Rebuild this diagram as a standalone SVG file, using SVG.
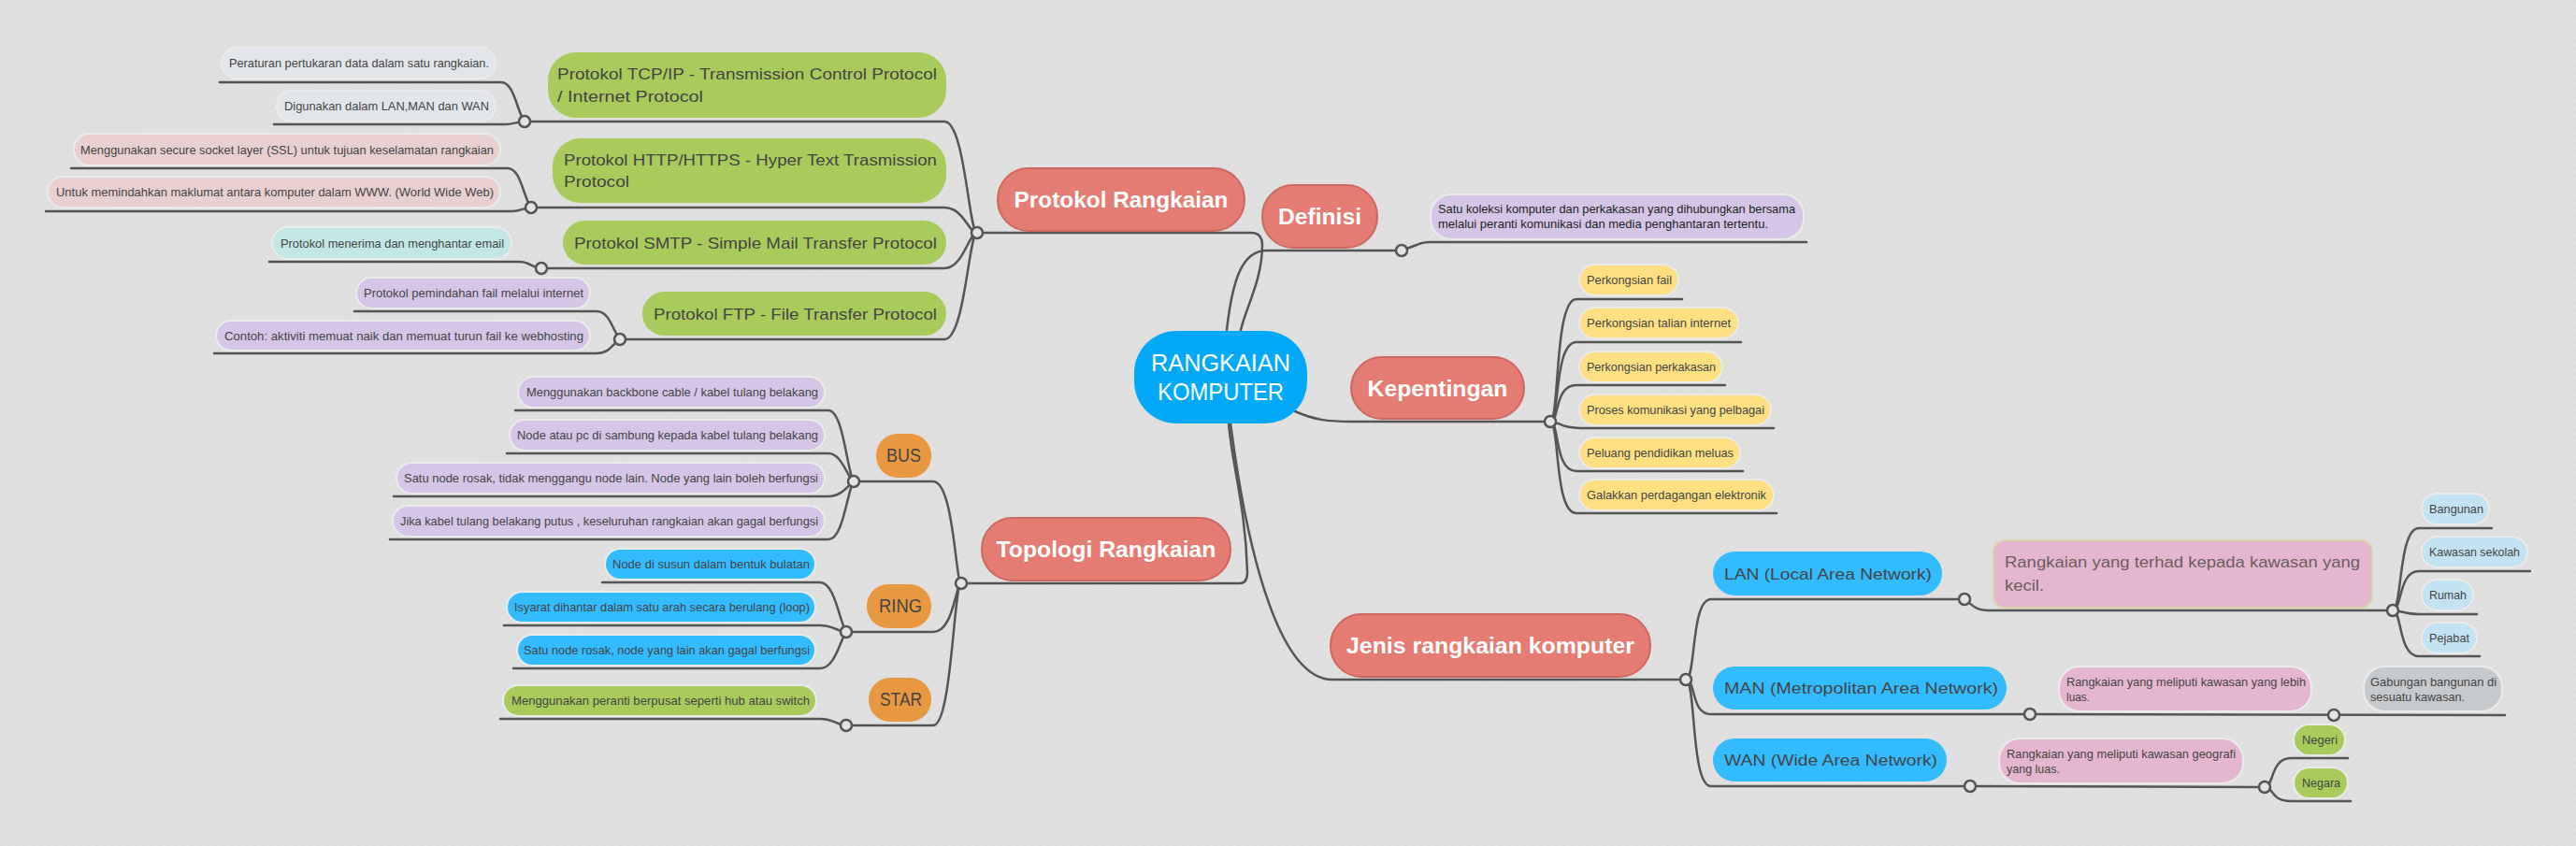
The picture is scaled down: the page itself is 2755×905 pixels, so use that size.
<svg xmlns="http://www.w3.org/2000/svg" width="2755" height="905" viewBox="0 0 2755 905">
<style>
text{font-family:"Liberation Sans",Arial,sans-serif}
.c{fill:none;stroke:#555;stroke-width:2.5;stroke-linecap:round}
.dot{fill:#e4e4e4;stroke:#555;stroke-width:2.5}
.main rect{fill:#E57C73;stroke:#CD675F;stroke-width:2}
.main text{font-size:24px;font-weight:bold;fill:#fff;text-anchor:middle}
.l2 text{font-size:17px;fill:#444}
.lf rect{stroke:#ebebeb;stroke-width:2}
.lf text{font-size:13px;fill:#444}
.g{fill:#A8CB5B}.gr{fill:#E2E6EA}.pk{fill:#E8CFD0}.tl{fill:#C3E7E6}.pu{fill:#D5C5E7}
.ye{fill:#FEE083}.bl{fill:#33BBFF}.or{fill:#E89841}.pd{fill:#E5B6CF}.lb{fill:#C3E2F2}.gy{fill:#C6CACD}
.topo text{font-size:20px;fill:#444;text-anchor:middle}
</style>
<defs>
<pattern id="bgp" width="6" height="6" patternUnits="userSpaceOnUse" patternTransform="rotate(45)">
<rect width="6" height="6" fill="#dedede"/><rect width="3" height="6" fill="#e1e1e1"/>
</pattern>
</defs>
<rect width="2755" height="905" fill="url(#bgp)"/>

<g id="connectors">
<!-- root to main branches -->
<path class="c" d="M1045,249 L1338,249 Q1350,249 1350,262 C1350,300 1332,330 1327,353"/>
<path class="c" d="M1312,353 C1318,300 1328,268 1355,268 L1499,268"/>
<path class="c" d="M1385,440 C1405,449 1420,451 1445,451 L1658,451"/>
<path class="c" d="M1028,624 L1326,624 Q1334,624 1334,612 C1332,540 1318,500 1314,453"/>
<path class="c" d="M1316,453 C1335,600 1370,727 1425,727 L1803,727"/>
<!-- protokol -->
<path class="c" d="M561,130 L1010,130 C1032,130 1036,249 1045,249"/>
<path class="c" d="M568,222 L1010,222 C1030,222 1036,249 1045,249"/>
<path class="c" d="M579,287 L1010,287 C1030,287 1036,249 1045,249"/>
<path class="c" d="M663,363 L1010,363 C1032,363 1036,249 1045,249"/>
<path class="c" d="M235,88 L536,88 C550,88 553,120 561,130"/>
<path class="c" d="M293,133 L540,133 C550,133 553,130 561,130"/>
<path class="c" d="M76,180 L543,180 C557,180 560,212 568,222"/>
<path class="c" d="M49,226 L547,226 C557,226 560,222 568,222"/>
<path class="c" d="M288,280 L556,280 C566,280 570,287 579,287"/>
<path class="c" d="M379,333 L638,333 C652,333 655,353 663,363"/>
<path class="c" d="M229,378 L638,378 C652,378 655,368 663,363"/>
<!-- topologi -->
<path class="c" d="M913,515 L998,515 C1020,515 1022,624 1028,624"/>
<path class="c" d="M905,676 L998,676 C1020,676 1022,624 1028,624"/>
<path class="c" d="M905,776 L998,776 C1018,776 1020,624 1028,624"/>
<path class="c" d="M551,439 L886,439 C902,439 906,505 913,515"/>
<path class="c" d="M542,485 L886,485 C900,485 906,510 913,515"/>
<path class="c" d="M421,531 L886,531 C900,531 906,520 913,515"/>
<path class="c" d="M417,577 L886,577 C902,577 906,525 913,515"/>
<path class="c" d="M644,623 L877,623 C893,623 898,666 905,676"/>
<path class="c" d="M539,669 L877,669 C891,669 897,676 905,676"/>
<path class="c" d="M549,715 L877,715 C893,715 898,686 905,676"/>
<path class="c" d="M535,769 L877,769 C891,769 897,776 905,776"/>
<!-- definisi -->
<path class="c" d="M1499,268 L1515,262 Q1520,259 1530,259 L1932,259"/>
<!-- kepentingan -->
<path class="c" d="M1658,451 C1668,451 1662,320 1686,320 L1799,320"/>
<path class="c" d="M1658,451 C1668,451 1662,366 1686,366 L1862,366"/>
<path class="c" d="M1658,451 C1668,451 1662,412 1686,412 L1845,412"/>
<path class="c" d="M1658,451 C1668,451 1668,458 1690,458 L1897,458"/>
<path class="c" d="M1658,451 C1668,451 1662,504 1686,504 L1864,504"/>
<path class="c" d="M1658,451 C1668,451 1662,549 1686,549 L1900,549"/>
<!-- jenis -->
<path class="c" d="M1803,727 C1814,727 1808,641 1830,641 L2101,641"/>
<path class="c" d="M1803,727 C1814,727 1808,764 1830,764 L2171,764"/>
<path class="c" d="M1803,727 C1814,727 1808,841 1830,841 L2107,841"/>
<path class="c" d="M2101,641 C2112,650 2115,653 2127,653 L2559,653"/>
<path class="c" d="M2559,653 C2569,653 2565,565 2587,565 L2665,565"/>
<path class="c" d="M2559,653 C2569,653 2565,611 2587,611 L2706,611"/>
<path class="c" d="M2559,653 C2569,653 2569,657 2589,657 L2649,657"/>
<path class="c" d="M2559,653 C2569,653 2565,702 2587,702 L2652,702"/>
<path class="c" d="M2171,764 L2679,765"/>
<path class="c" d="M2107,841 L2422,842"/>
<path class="c" d="M2422,842 C2432,842 2428,811 2450,811 L2511,811"/>
<path class="c" d="M2422,842 C2432,842 2428,857 2450,857 L2514,857"/>
<circle class="dot" cx="561" cy="130" r="6"/>
<circle class="dot" cx="568" cy="222" r="6"/>
<circle class="dot" cx="579" cy="287" r="6"/>
<circle class="dot" cx="663" cy="363" r="6"/>
<circle class="dot" cx="1045" cy="249" r="6"/>
<circle class="dot" cx="913" cy="515" r="6"/>
<circle class="dot" cx="905" cy="676" r="6"/>
<circle class="dot" cx="905" cy="776" r="6"/>
<circle class="dot" cx="1028" cy="624" r="6"/>
<circle class="dot" cx="1499" cy="268" r="6"/>
<circle class="dot" cx="1658" cy="451" r="6"/>
<circle class="dot" cx="1803" cy="727" r="6"/>
<circle class="dot" cx="2101" cy="641" r="6"/>
<circle class="dot" cx="2559" cy="653" r="6"/>
<circle class="dot" cx="2171" cy="764" r="6"/>
<circle class="dot" cx="2496" cy="765" r="6"/>
<circle class="dot" cx="2107" cy="841" r="6"/>
<circle class="dot" cx="2422" cy="842" r="6"/>
</g>

<g id="root">
<rect x="1213" y="354" width="185" height="99" rx="45" fill="#02A9F9"/>
<text x="1305.5" y="397" font-size="25" fill="#fff" text-anchor="middle" textLength="149" lengthAdjust="spacingAndGlyphs">RANGKAIAN</text>
<text x="1305.5" y="428" font-size="25" fill="#fff" text-anchor="middle" textLength="135" lengthAdjust="spacingAndGlyphs">KOMPUTER</text>
</g>

<g id="protokol-rangkaian" class="main"><rect x="1067" y="180" width="264" height="67" rx="33"/><text x="1199" y="222" textLength="229" lengthAdjust="spacingAndGlyphs">Protokol Rangkaian</text></g>
<g id="definisi" class="main"><rect x="1350" y="198" width="123" height="67" rx="33"/><text x="1411.5" y="240" textLength="89" lengthAdjust="spacingAndGlyphs">Definisi</text></g>
<g id="kepentingan" class="main"><rect x="1445" y="382" width="185" height="66" rx="33"/><text x="1537.5" y="423.5" textLength="150" lengthAdjust="spacingAndGlyphs">Kepentingan</text></g>
<g id="topologi-rangkaian" class="main"><rect x="1050" y="554" width="266" height="67" rx="33"/><text x="1183" y="596" textLength="235" lengthAdjust="spacingAndGlyphs">Topologi Rangkaian</text></g>
<g id="jenis-rangkaian" class="main"><rect x="1423" y="657" width="342" height="67" rx="33"/><text x="1594" y="699" textLength="308" lengthAdjust="spacingAndGlyphs">Jenis rangkaian komputer</text></g>

<!-- Protokol level 2 -->
<g id="tcpip" class="l2"><rect class="g" x="586" y="56" width="426" height="70" rx="30"/>
<text x="596" y="85" textLength="406" lengthAdjust="spacingAndGlyphs">Protokol TCP/IP - Transmission Control Protocol</text>
<text x="596" y="109" textLength="156" lengthAdjust="spacingAndGlyphs">/ Internet Protocol</text></g>
<g id="http" class="l2"><rect class="g" x="591" y="148" width="421" height="69" rx="30"/>
<text x="603" y="177" textLength="399" lengthAdjust="spacingAndGlyphs">Protokol HTTP/HTTPS - Hyper Text Trasmission</text>
<text x="603" y="200" textLength="70" lengthAdjust="spacingAndGlyphs">Protocol</text></g>
<g id="smtp" class="l2"><rect class="g" x="602" y="236" width="410" height="47" rx="23.5"/>
<text x="614" y="265.5" textLength="388" lengthAdjust="spacingAndGlyphs">Protokol SMTP - Simple Mail Transfer Protocol</text></g>
<g id="ftp" class="l2"><rect class="g" x="687" y="312" width="325" height="47" rx="23.5"/>
<text x="699" y="341.5" textLength="303" lengthAdjust="spacingAndGlyphs">Protokol FTP - File Transfer Protocol</text></g>

<!-- Protokol leaves -->
<g id="tcp-leaf1" class="lf"><rect class="gr" x="237" y="51" width="293" height="33" rx="16.5"/><text x="245" y="72" textLength="278" lengthAdjust="spacingAndGlyphs">Peraturan pertukaran data dalam satu rangkaian.</text></g>
<g id="tcp-leaf2" class="lf"><rect class="gr" x="296" y="97" width="234" height="33" rx="16.5"/><text x="304" y="118" textLength="219" lengthAdjust="spacingAndGlyphs">Digunakan dalam LAN,MAN dan WAN</text></g>
<g id="http-leaf1" class="lf"><rect class="pk" x="79" y="143" width="456" height="34" rx="17"/><text x="86" y="164.5" textLength="442" lengthAdjust="spacingAndGlyphs">Menggunakan secure socket layer (SSL) untuk tujuan keselamatan rangkaian</text></g>
<g id="http-leaf2" class="lf"><rect class="pk" x="51" y="189" width="484" height="33" rx="16.5"/><text x="60" y="210" textLength="468" lengthAdjust="spacingAndGlyphs">Untuk memindahkan maklumat antara komputer dalam WWW. (World Wide Web)</text></g>
<g id="smtp-leaf" class="lf"><rect class="tl" x="291" y="243" width="256" height="34" rx="17"/><text x="300" y="264.5" textLength="239" lengthAdjust="spacingAndGlyphs">Protokol menerima dan menghantar email</text></g>
<g id="ftp-leaf1" class="lf"><rect class="pu" x="381" y="297" width="250" height="33" rx="16.5"/><text x="389" y="317.5" textLength="235" lengthAdjust="spacingAndGlyphs">Protokol pemindahan fail melalui internet</text></g>
<g id="ftp-leaf2" class="lf"><rect class="pu" x="231" y="343" width="400" height="32" rx="16"/><text x="240" y="363.5" textLength="384" lengthAdjust="spacingAndGlyphs">Contoh: aktiviti memuat naik dan memuat turun fail ke webhosting</text></g>

<!-- Topologi -->
<g id="bus" class="topo"><rect class="or" x="937" y="464" width="59" height="47" rx="23"/><text x="966.5" y="494" textLength="37" lengthAdjust="spacingAndGlyphs">BUS</text></g>
<g id="ring" class="topo"><rect class="or" x="927" y="625" width="69" height="47" rx="23"/><text x="963" y="655" textLength="46" lengthAdjust="spacingAndGlyphs">RING</text></g>
<g id="star" class="topo"><rect class="or" x="929" y="725" width="67" height="47" rx="23"/><text x="963.5" y="755" textLength="45" lengthAdjust="spacingAndGlyphs">STAR</text></g>

<g id="bus-leaf1" class="lf"><rect class="pu" x="554" y="403" width="328" height="33" rx="16.5"/><text x="563" y="424" textLength="312" lengthAdjust="spacingAndGlyphs">Menggunakan backbone cable / kabel tulang belakang</text></g>
<g id="bus-leaf2" class="lf"><rect class="pu" x="545" y="449" width="337" height="33" rx="16.5"/><text x="553" y="470" textLength="322" lengthAdjust="spacingAndGlyphs">Node atau pc di sambung kepada kabel tulang belakang</text></g>
<g id="bus-leaf3" class="lf"><rect class="pu" x="424" y="495" width="458" height="33" rx="16.5"/><text x="432" y="516" textLength="443" lengthAdjust="spacingAndGlyphs">Satu node rosak, tidak menggangu node lain. Node yang lain boleh berfungsi</text></g>
<g id="bus-leaf4" class="lf"><rect class="pu" x="420" y="541" width="462" height="33" rx="16.5"/><text x="428" y="562" textLength="447" lengthAdjust="spacingAndGlyphs">Jika kabel tulang belakang putus , keseluruhan rangkaian akan gagal berfungsi</text></g>
<g id="ring-leaf1" class="lf"><rect class="bl" x="647" y="587" width="225" height="33" rx="16.5"/><text x="655" y="608" textLength="211" lengthAdjust="spacingAndGlyphs">Node di susun dalam bentuk bulatan</text></g>
<g id="ring-leaf2" class="lf"><rect class="bl" x="542" y="633" width="330" height="33" rx="16.5"/><text x="550" y="654" textLength="316" lengthAdjust="spacingAndGlyphs">Isyarat dihantar dalam satu arah secara berulang (loop)</text></g>
<g id="ring-leaf3" class="lf"><rect class="bl" x="553" y="679" width="319" height="33" rx="16.5"/><text x="560" y="700" textLength="306" lengthAdjust="spacingAndGlyphs">Satu node rosak, node yang lain akan gagal berfungsi</text></g>
<g id="star-leaf" class="lf"><rect class="g" x="538" y="733" width="335" height="33" rx="16.5"/><text x="547" y="754" textLength="319" lengthAdjust="spacingAndGlyphs">Menggunakan peranti berpusat seperti hub atau switch</text></g>

<!-- Definisi leaf -->
<g id="definisi-leaf" class="lf"><rect class="pu" x="1530" y="208" width="399" height="48" rx="22"/>
<text x="1538" y="227.5" style="fill:#1e1e1e" textLength="382" lengthAdjust="spacingAndGlyphs">Satu koleksi komputer dan perkakasan yang dihubungkan bersama</text>
<text x="1538" y="243.5" style="fill:#1e1e1e" textLength="353" lengthAdjust="spacingAndGlyphs">melalui peranti komunikasi dan media penghantaran tertentu.</text></g>

<!-- Kepentingan leaves -->
<g id="kep1" class="lf"><rect class="ye" x="1689" y="283" width="106" height="33" rx="16.5"/><text x="1697" y="304" textLength="91" lengthAdjust="spacingAndGlyphs">Perkongsian fail</text></g>
<g id="kep2" class="lf"><rect class="ye" x="1689" y="329" width="170" height="33" rx="16.5"/><text x="1697" y="350" textLength="154" lengthAdjust="spacingAndGlyphs">Perkongsian talian internet</text></g>
<g id="kep3" class="lf"><rect class="ye" x="1689" y="376" width="153" height="33" rx="16.5"/><text x="1697" y="397" textLength="138" lengthAdjust="spacingAndGlyphs">Perkongsian perkakasan</text></g>
<g id="kep4" class="lf"><rect class="ye" x="1689" y="422" width="205" height="33" rx="16.5"/><text x="1697" y="443" textLength="190" lengthAdjust="spacingAndGlyphs">Proses komunikasi yang pelbagai</text></g>
<g id="kep5" class="lf"><rect class="ye" x="1689" y="468" width="172" height="33" rx="16.5"/><text x="1697" y="489" textLength="157" lengthAdjust="spacingAndGlyphs">Peluang pendidikan meluas</text></g>
<g id="kep6" class="lf"><rect class="ye" x="1689" y="513" width="208" height="33" rx="16.5"/><text x="1697" y="534" textLength="192" lengthAdjust="spacingAndGlyphs">Galakkan perdagangan elektronik</text></g>

<!-- Jenis -->
<g id="lan" class="l2"><rect class="bl" x="1832" y="590" width="245" height="47" rx="23.5"/><text x="1844" y="619.5" textLength="222" lengthAdjust="spacingAndGlyphs">LAN (Local Area Network)</text></g>
<g id="man" class="l2"><rect class="bl" x="1832" y="713" width="314" height="46" rx="23"/><text x="1844" y="742" textLength="293" lengthAdjust="spacingAndGlyphs">MAN (Metropolitan Area Network)</text></g>
<g id="wan" class="l2"><rect class="bl" x="1832" y="790" width="250" height="46" rx="23"/><text x="1844" y="819" textLength="228" lengthAdjust="spacingAndGlyphs">WAN (Wide Area Network)</text></g>

<g id="lan-desc" class="l2"><rect class="pd" x="2132" y="578" width="405" height="72" rx="12" stroke="#DAD5A8" stroke-width="2"/>
<text x="2144" y="607" style="fill:#6a5d5d" textLength="380" lengthAdjust="spacingAndGlyphs">Rangkaian yang terhad kepada kawasan yang</text>
<text x="2144" y="632" style="fill:#6a5d5d" textLength="42" lengthAdjust="spacingAndGlyphs">kecil.</text></g>
<g id="lan1" class="lf"><rect class="lb" x="2590" y="528" width="72" height="33" rx="16.5"/><text x="2598" y="549" textLength="58" lengthAdjust="spacingAndGlyphs">Bangunan</text></g>
<g id="lan2" class="lf"><rect class="lb" x="2590" y="574" width="113" height="33" rx="16.5"/><text x="2598" y="595" textLength="97" lengthAdjust="spacingAndGlyphs">Kawasan sekolah</text></g>
<g id="lan3" class="lf"><rect class="lb" x="2590" y="620" width="55" height="33" rx="16.5"/><text x="2598" y="641" textLength="40" lengthAdjust="spacingAndGlyphs">Rumah</text></g>
<g id="lan4" class="lf"><rect class="lb" x="2590" y="666" width="59" height="33" rx="16.5"/><text x="2598" y="687" textLength="43" lengthAdjust="spacingAndGlyphs">Pejabat</text></g>

<g id="man-desc" class="lf"><rect class="pd" x="2202" y="713" width="270" height="48" rx="22"/>
<text x="2210" y="733.5" textLength="256" lengthAdjust="spacingAndGlyphs">Rangkaian yang meliputi kawasan yang lebih</text>
<text x="2210" y="749.5" textLength="25" lengthAdjust="spacingAndGlyphs">luas.</text></g>
<g id="man-sub" class="lf"><rect class="gy" x="2528" y="713" width="148" height="48" rx="22"/>
<text x="2535" y="733.5" textLength="135" lengthAdjust="spacingAndGlyphs">Gabungan bangunan di</text>
<text x="2535" y="749.5" textLength="101" lengthAdjust="spacingAndGlyphs">sesuatu kawasan.</text></g>

<g id="wan-desc" class="lf"><rect class="pd" x="2138" y="790" width="261" height="48" rx="22"/>
<text x="2146" y="810.5" textLength="245" lengthAdjust="spacingAndGlyphs">Rangkaian yang meliputi kawasan geografi</text>
<text x="2146" y="826.5" textLength="57" lengthAdjust="spacingAndGlyphs">yang luas.</text></g>
<g id="negeri" class="lf"><rect class="g" x="2453" y="775" width="55" height="33" rx="16.5"/><text x="2462" y="796" textLength="38" lengthAdjust="spacingAndGlyphs">Negeri</text></g>
<g id="negara" class="lf"><rect class="g" x="2453" y="821" width="58" height="33" rx="16.5"/><text x="2462" y="842" textLength="41" lengthAdjust="spacingAndGlyphs">Negara</text></g>
</svg>
